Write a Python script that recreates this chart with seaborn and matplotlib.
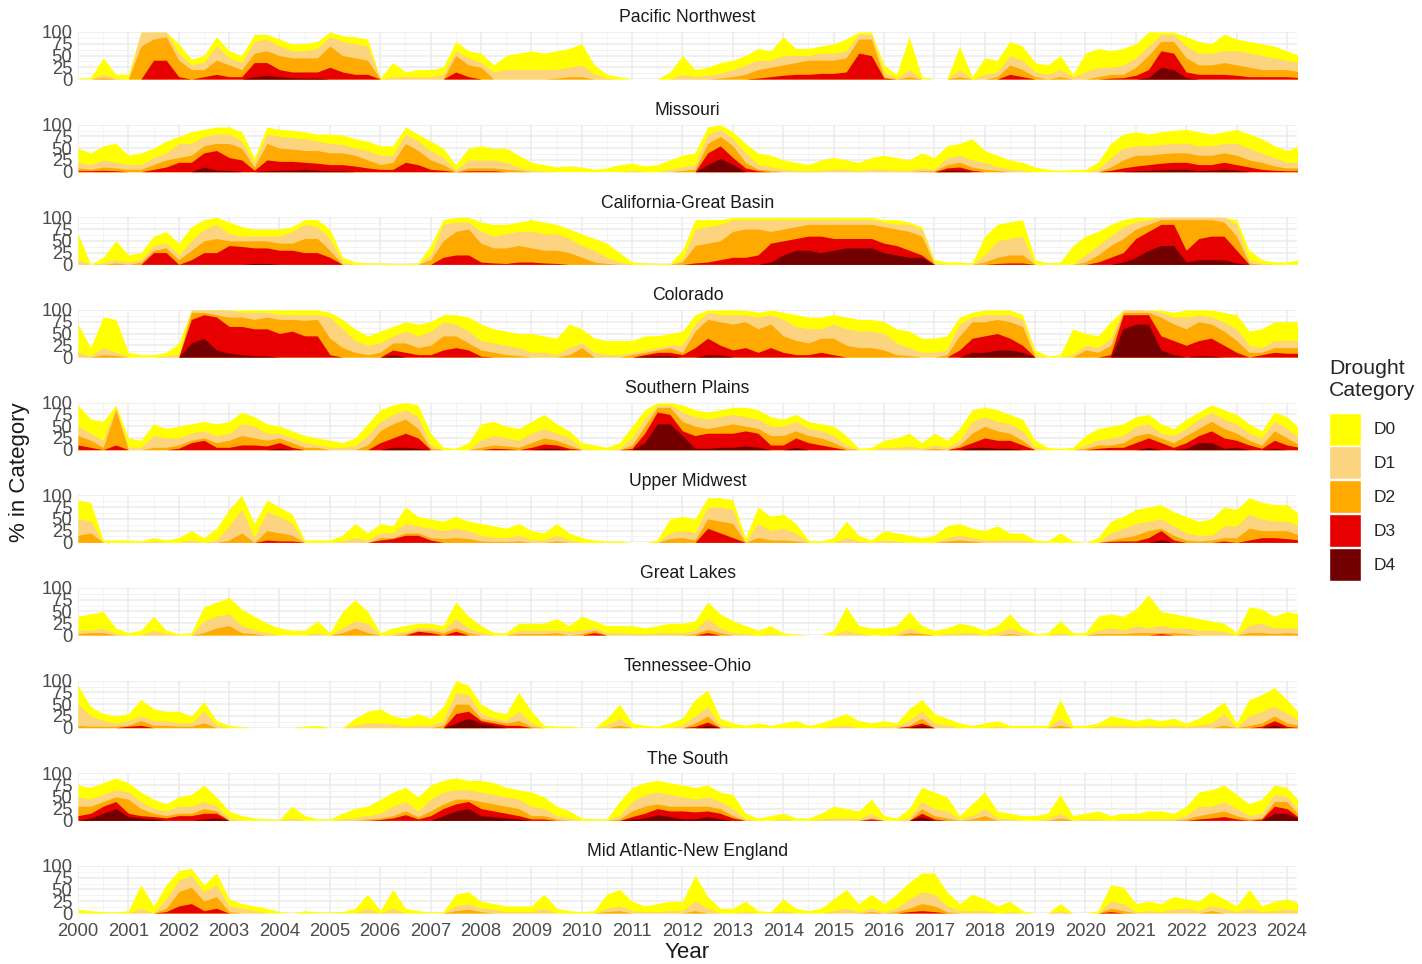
import numpy as np
import pandas as pd
import matplotlib
matplotlib.use("Agg")
import matplotlib.pyplot as plt
from matplotlib.patches import Patch
from matplotlib.ticker import MultipleLocator
import seaborn as sns

# quarterly readings of the cumulative drought levels (% area in Dx or worse),
# 2000.00, 2000.25, ... 2024.25  (98 values per series)
quarters = 2000 + 0.25 * np.arange(98)

regions = ["Pacific Northwest", "Missouri", "California-Great Basin", "Colorado",
           "Southern Plains", "Upper Midwest", "Great Lakes", "Tennessee-Ohio",
           "The South", "Mid Atlantic-New England"]
categories = ["D0", "D1", "D2", "D3", "D4"]
colors = ["#FFFF00", "#FCD37F", "#FFAA00", "#E60000", "#730000"]

pnw_d0 = [2,3,45,10, 10,100,100,100, 75,42,50,90, 60,50,95,95, 85,75,75,80, 100,92,90,85,
          2,35,15,20, 20,25,80,60, 55,30,50,55, 60,55,60,65, 75,30,10,5, 0,0,0,15,
          50,20,25,35, 40,50,65,60, 90,65,65,70, 75,85,100,100, 30,10,90,5, 0,0,70,5,
          45,40,80,70, 35,30,50,10, 55,65,60,65, 75,100,100,100, 90,80,75,95, 85,80,75,70,
          60,50]
pnw_d1 = [0,0,10,2, 0,100,100,100, 55,30,35,70, 45,35,80,85, 70,60,60,65, 90,80,75,70,
          0,5,5,5, 5,10,60,45, 35,15,20,20, 20,20,20,25, 30,10,2,0, 0,0,0,0,
          10,5,8,12, 20,30,40,40, 50,50,50,55, 55,60,95,95, 15,2,20,0, 0,0,20,0,
          10,15,50,40, 15,10,20,5, 15,25,25,30, 45,70,95,95, 70,55,55,60, 60,55,50,45,
          40,35]
pnw_d2 = [0,0,3,0, 0,70,85,90, 40,20,20,40, 30,20,55,60, 50,45,45,45, 70,50,45,40,
          0,0,0,0, 0,0,50,30, 25,0,0,0, 0,0,2,5, 5,0,0,0, 0,0,0,0,
          0,0,0,2, 5,10,20,25, 30,35,40,40, 40,45,85,85, 5,0,5,0, 0,0,5,0,
          0,5,30,20, 5,0,5,0, 0,5,10,10, 25,50,80,80, 45,30,30,35, 30,25,20,20,
          20,15]
pnw_d3 = [0,0,0,0, 0,0,40,40, 5,0,5,10, 5,5,35,35, 20,15,15,15, 25,15,10,10,
          0,0,0,0, 0,0,15,5, 0,0,0,0, 0,0,0,0, 0,0,0,0, 0,0,0,0,
          0,0,0,0, 0,0,2,5, 8,10,10,12, 12,15,55,50, 2,0,0,0, 0,0,0,0,
          0,0,10,5, 0,0,0,0, 0,0,2,3, 8,20,60,55, 15,10,10,10, 8,5,5,5,
          5,3]
pnw_d4 = [0,0,0,0, 0,0,0,0, 0,0,0,0, 0,0,5,8, 5,3,2,2, 0,0,0,0,
          0,0,0,0, 0,0,0,0, 0,0,0,0, 0,0,0,0, 0,0,0,0, 0,0,0,0,
          0,0,0,0, 0,0,0,0, 0,0,0,0, 0,0,0,0, 0,0,0,0, 0,0,0,0,
          0,0,0,0, 0,0,0,0, 0,0,0,0, 0,3,25,20, 3,0,0,0, 0,0,0,0,
          0,0]

mo_d0 = [50,40,55,60, 35,40,50,65, 75,85,90,95, 95,85,30,95, 90,88,85,80, 80,78,70,65,
         55,55,95,80, 65,50,15,50, 55,50,50,35, 20,15,10,12, 10,5,8,15, 18,12,15,25,
         35,40,95,100, 85,60,40,35, 25,20,15,25, 30,25,20,30, 35,30,25,40, 30,55,60,70,
         45,35,25,20, 10,5,3,5, 5,20,60,80, 85,80,85,88, 90,85,80,85, 90,80,70,55,
         45,55]
mo_d1 = [20,15,25,20, 15,15,30,40, 60,60,75,80, 80,65,20,80, 75,72,70,65, 60,58,50,45,
         35,35,80,65, 45,30,3,25, 25,25,20,8, 3,2,0,0, 0,0,0,0, 3,0,0,5,
         10,15,80,90, 70,40,15,10, 5,3,2,3, 5,5,2,5, 5,3,3,8, 5,30,35,25,
         20,10,5,3, 0,0,0,0, 0,5,30,50, 55,55,58,60, 60,55,55,60, 60,50,40,30,
         20,20]
mo_d2 = [8,5,10,8, 5,5,15,25, 30,35,55,60, 60,50,10,60, 50,48,45,45, 40,40,35,25,
         15,20,60,45, 25,15,0,8, 8,8,5,3, 0,0,0,0, 0,0,0,0, 0,0,0,0,
         3,5,60,75, 55,20,5,3, 0,0,0,0, 0,0,0,0, 0,0,0,2, 2,15,20,10,
         5,3,0,0, 0,0,0,0, 0,0,10,25, 35,35,38,40, 40,35,35,40, 35,25,20,12,
         8,8]
mo_d3 = [2,2,3,2, 0,0,5,10, 20,20,40,45, 30,25,3,25, 22,22,20,18, 15,15,12,8,
         5,5,20,15, 5,3,0,2, 2,2,0,0, 0,0,0,0, 0,0,0,0, 0,0,0,0,
         0,0,40,55, 30,8,2,0, 0,0,0,0, 0,0,0,0, 0,0,0,0, 0,8,10,3,
         0,0,0,0, 0,0,0,0, 0,0,3,8, 12,15,18,20, 20,15,15,20, 15,10,5,3,
         2,2]
mo_d4 = [0,0,0,0, 0,0,0,0, 0,0,10,3, 3,0,0,2, 3,3,5,3, 2,2,0,0,
         0,0,0,0, 0,0,0,0, 0,0,0,0, 0,0,0,0, 0,0,0,0, 0,0,0,0,
         0,0,15,28, 15,0,0,0, 0,0,0,0, 0,0,0,0, 0,0,0,0, 0,3,4,0,
         0,0,0,0, 0,0,0,0, 0,0,0,0, 2,3,4,5, 5,2,3,5, 3,0,0,0,
         0,0]

cgb_d0 = [65,0,15,50, 20,25,60,70, 45,80,95,100, 90,80,75,75, 75,80,95,95, 75,15,5,3,
          3,2,2,3, 40,95,100,100, 90,85,85,90, 95,90,85,75, 65,55,45,25, 5,3,2,2,
          30,95,95,95, 100,100,100,100, 100,100,100,100, 100,100,100,100, 95,95,90,80, 10,5,5,3,
          60,85,90,95, 10,3,5,40, 60,70,85,95, 100,100,100,100, 100,100,100,100, 95,30,10,5,
          5,10]
cgb_d1 = [10,0,3,10, 5,10,40,45, 20,50,75,85, 65,60,60,60, 60,70,85,80, 55,5,0,0,
          0,0,0,0, 20,85,90,90, 70,60,65,70, 70,65,65,55, 40,30,15,5, 0,0,0,0,
          10,75,80,85, 95,95,95,95, 95,95,95,95, 95,95,95,95, 90,85,85,75, 3,0,0,0,
          20,50,55,60, 0,0,0,0, 20,40,60,80, 90,95,100,100, 100,100,100,100, 85,10,3,0,
          0,0]
cgb_d2 = [0,0,0,3, 0,5,30,35, 10,30,50,55, 50,50,50,50, 45,45,55,55, 30,0,0,0,
          0,0,0,0, 10,50,70,75, 45,35,35,40, 35,30,30,25, 15,5,2,0, 0,0,0,0,
          5,40,45,50, 70,75,75,70, 75,80,85,85, 85,85,85,85, 80,75,70,60, 0,0,0,0,
          5,15,20,20, 0,0,0,0, 5,20,40,55, 75,85,95,95, 95,95,95,90, 60,3,0,0,
          0,0]
cgb_d3 = [0,0,0,0, 0,0,25,25, 0,10,25,25, 40,38,35,35, 30,30,25,25, 15,0,0,0,
          0,0,0,0, 0,15,20,20, 5,3,2,5, 5,3,2,0, 0,0,0,0, 0,0,0,0,
          0,3,5,10, 15,15,20,45, 50,55,60,60, 55,55,55,55, 45,40,30,20, 0,0,0,0,
          0,2,3,3, 0,0,0,0, 0,5,15,25, 55,70,85,85, 30,55,60,60, 30,0,0,0,
          0,0]
cgb_d4 = [0,0,0,0, 0,0,0,0, 0,0,0,0, 0,0,2,2, 0,0,0,0, 0,0,0,0,
          0,0,0,0, 0,0,0,0, 0,0,0,0, 0,0,0,0, 0,0,0,0, 0,0,0,0,
          0,0,0,0, 0,0,0,5, 20,30,30,25, 30,35,35,35, 25,20,15,15, 0,0,0,0,
          0,0,0,0, 0,0,0,0, 0,0,0,5, 15,30,40,40, 5,10,10,10, 3,0,0,0,
          0,0]

co_d0 = [70,20,85,80, 10,5,5,10, 30,100,100,100, 100,100,100,100, 100,100,100,100, 95,80,60,45,
         55,65,75,70, 75,90,90,85, 70,60,55,50, 50,45,40,70, 60,40,35,35, 35,45,45,50,
         55,90,100,100, 100,100,95,100, 95,90,85,85, 90,85,80,80, 75,60,55,40, 40,45,85,95,
         100,100,100,90, 15,3,5,60, 50,45,75,100, 100,100,100,95, 100,100,100,95, 90,55,60,75,
         75,75]
co_d1 = [10,3,20,10, 0,0,0,3, 5,100,100,100, 100,95,95,95, 90,90,90,90, 85,60,35,25,
         30,45,55,45, 55,75,70,55, 35,30,25,20, 10,10,5,20, 30,10,5,5, 10,15,20,25,
         25,70,95,90, 90,90,85,90, 80,65,60,60, 70,60,55,55, 50,30,20,10, 10,15,70,85,
         90,90,90,80, 5,0,0,5, 25,20,40,100, 100,100,95,85, 85,90,85,75, 60,25,20,35,
         35,35]
co_d2 = [0,0,5,3, 0,0,0,0, 0,95,95,90, 85,85,80,85, 80,80,78,80, 40,20,10,5,
         10,30,30,20, 25,45,45,30, 15,10,5,3, 0,0,0,5, 20,0,0,0, 5,10,15,20,
         10,55,80,75, 70,75,60,70, 45,35,30,40, 40,25,20,20, 15,5,3,0, 0,5,45,75,
         75,80,75,65, 0,0,0,0, 15,10,25,95, 95,95,85,70, 60,75,70,55, 35,10,10,20,
         20,20]
co_d3 = [0,0,0,0, 0,0,0,0, 0,80,90,85, 65,65,60,60, 50,55,45,45, 5,0,0,0,
         0,15,10,5, 5,15,20,15, 2,0,0,0, 0,0,0,0, 0,0,0,0, 0,5,10,10,
         5,20,40,25, 15,20,10,20, 10,5,5,10, 5,0,0,0, 0,0,0,0, 0,0,15,40,
         45,50,40,25, 0,0,0,0, 0,0,5,90, 90,90,45,35, 25,35,40,25, 10,0,5,10,
         8,8]
co_d4 = [0,0,0,0, 0,0,0,0, 0,30,40,15, 8,5,3,2, 0,0,0,0, 0,0,0,0,
         0,5,0,0, 0,0,0,0, 0,0,0,0, 0,0,0,0, 0,0,0,0, 0,2,3,3,
         0,0,5,5, 0,0,0,0, 0,0,0,0, 0,0,0,0, 0,0,0,0, 0,0,0,10,
         10,15,15,10, 0,0,0,0, 0,0,0,60, 70,70,15,5, 0,3,2,0, 0,0,0,0,
         0,0]

sp_d0 = [95,65,60,95, 25,20,55,45, 50,55,60,55, 60,80,70,55, 50,40,30,25, 20,15,25,55,
         85,95,100,95, 35,5,3,15, 55,60,50,45, 60,75,55,40, 15,10,5,15, 50,85,100,100,
         95,85,80,85, 90,90,85,70, 65,75,60,55, 50,30,3,5, 20,25,35,15, 35,20,45,85,
         90,85,75,65, 20,5,3,5, 30,45,50,55, 70,75,55,45, 65,80,95,85, 75,55,40,80,
         70,45]
sp_d1 = [50,35,20,90, 5,5,30,25, 25,35,40,30, 35,55,50,35, 35,25,15,10, 5,5,8,30,
         60,75,85,70, 10,0,0,0, 20,30,25,20, 35,45,35,25, 3,0,0,3, 25,65,95,95,
         80,70,65,70, 75,70,65,50, 50,60,45,40, 30,10,0,0, 5,5,8,3, 10,5,20,60,
         70,60,55,40, 5,0,0,0, 10,20,25,30, 50,55,35,30, 45,65,80,65, 55,35,25,60,
         45,25]
sp_d2 = [30,20,5,85, 0,0,5,5, 10,20,25,15, 20,30,25,20, 25,15,5,5, 0,0,0,10,
         40,55,65,45, 3,0,0,0, 5,10,8,5, 15,25,20,10, 0,0,0,0, 10,50,90,90,
         60,50,45,50, 55,50,45,30, 30,40,30,25, 15,3,0,0, 0,0,0,0, 3,0,10,35,
         50,40,35,20, 0,0,0,0, 3,10,10,15, 30,35,25,15, 30,45,60,45, 35,20,10,40,
         25,10]
sp_d3 = [10,5,0,10, 0,0,0,0, 3,15,20,5, 5,10,10,8, 15,5,0,0, 0,0,0,0,
         15,25,35,25, 0,0,0,0, 0,3,2,0, 5,12,10,3, 0,0,0,0, 3,35,80,75,
         40,30,35,35, 35,40,35,10, 10,25,15,10, 5,0,0,0, 0,0,0,0, 0,0,5,15,
         25,20,20,10, 0,0,0,0, 0,3,5,5, 15,25,15,5, 15,30,40,25, 20,10,3,20,
         10,5]
sp_d4 = [0,0,0,0, 0,0,0,0, 0,0,0,0, 0,0,0,0, 3,0,0,0, 0,0,0,0,
         0,5,5,3, 0,0,0,0, 0,0,0,0, 0,3,3,0, 0,0,0,0, 0,15,55,55,
         30,3,3,5, 5,8,5,0, 0,5,0,0, 0,0,0,0, 0,0,0,0, 0,0,0,5,
         5,3,3,0, 0,0,0,0, 0,0,0,0, 0,5,0,0, 3,15,15,3, 5,0,0,3,
         0,0]

um_d0 = [90,85,5,5, 5,3,10,5, 10,25,10,30, 70,100,40,90, 75,60,5,5, 5,15,40,20,
         40,35,75,55, 50,45,55,45, 40,35,30,40, 25,20,40,20, 10,5,3,3, 0,0,5,50,
         55,50,95,95, 90,10,75,55, 60,40,5,3, 10,45,15,5, 25,20,15,10, 15,35,40,30,
         25,35,20,20, 5,3,20,3, 0,10,45,55, 70,75,80,65, 55,45,50,75, 70,95,85,80,
         80,60]
um_d1 = [50,45,0,0, 0,0,3,0, 0,5,0,5, 35,70,10,65, 55,40,0,0, 0,3,10,5,
         20,20,40,35, 30,25,30,25, 15,10,10,15, 5,5,15,5, 0,0,0,0, 0,0,0,20,
         25,20,75,75, 70,0,40,25, 30,20,0,0, 0,10,3,0, 5,3,0,0, 0,10,15,10,
         5,5,5,5, 0,0,0,0, 0,0,20,30, 40,45,50,35, 20,15,15,35, 35,60,50,45,
         45,35]
um_d2 = [15,20,0,0, 0,0,0,0, 0,0,0,0, 5,20,0,25, 20,15,0,0, 0,0,0,0,
         10,10,20,20, 10,8,10,8, 3,2,2,3, 0,0,3,0, 0,0,0,0, 0,0,0,8,
         10,5,50,45, 40,0,10,5, 5,3,0,0, 0,0,0,0, 0,0,0,0, 0,3,5,3,
         0,0,0,0, 0,0,0,0, 0,0,5,10, 15,25,30,15, 5,3,5,10, 10,30,25,25,
         25,15]
um_d3 = [0,0,0,0, 0,0,0,0, 0,0,0,0, 0,0,0,5, 3,3,0,0, 0,0,0,0,
         5,8,15,15, 5,0,0,0, 0,0,0,0, 0,0,0,0, 0,0,0,0, 0,0,0,0,
         0,0,30,20, 10,0,0,0, 0,0,0,0, 0,0,0,0, 0,0,0,0, 0,0,0,0,
         0,0,0,0, 0,0,0,0, 0,0,2,3, 3,10,25,5, 0,0,0,3, 0,5,10,10,
         8,5]
um_d4 = [0,0,0,0, 0,0,0,0, 0,0,0,0, 0,0,0,0, 0,0,0,0, 0,0,0,0,
         0,0,0,0, 0,0,0,0, 0,0,0,0, 0,0,0,0, 0,0,0,0, 0,0,0,0,
         0,0,0,0, 0,0,0,0, 0,0,0,0, 0,0,0,0, 0,0,0,0, 0,0,0,0,
         0,0,0,0, 0,0,0,0, 0,0,0,0, 0,0,5,0, 0,0,0,0, 0,0,0,0,
         0,0]

gl_d0 = [40,45,50,15, 5,10,40,10, 3,5,60,70, 80,55,40,25, 15,10,10,30, 5,50,75,50,
         5,15,20,25, 25,20,70,40, 20,5,5,25, 25,25,35,20, 40,30,20,20, 20,15,20,25,
         25,30,70,45, 30,20,10,20, 5,2,0,0, 10,60,20,15, 15,20,50,20, 10,15,25,20,
         10,20,45,15, 3,5,30,5, 5,40,45,40, 55,85,50,45, 40,35,30,25, 5,60,55,40,
         50,45]
gl_d1 = [10,10,15,3, 0,0,10,3, 0,0,30,40, 45,20,10,5, 0,0,0,5, 0,15,30,25,
         0,3,8,15, 15,10,35,15, 5,0,0,10, 10,10,10,8, 10,15,5,5, 3,3,5,5,
         5,10,35,15, 5,3,0,3, 0,0,0,0, 0,10,3,0, 0,3,15,5, 0,3,5,5,
         0,5,15,5, 0,0,5,0, 0,10,15,10, 20,15,20,15, 15,10,10,8, 0,20,25,15,
         15,15]
gl_d2 = [3,5,5,0, 0,0,0,0, 0,0,5,15, 20,5,3,0, 0,0,0,0, 0,5,15,5,
         0,0,3,10, 10,5,15,5, 0,0,0,3, 3,3,5,0, 3,10,0,0, 0,0,0,0,
         0,3,12,5, 0,0,0,0, 0,0,0,0, 0,0,0,0, 0,0,5,3, 0,0,0,0,
         0,0,3,0, 0,0,0,0, 0,3,3,3, 5,5,5,5, 3,0,0,0, 0,5,5,3,
         5,3]
gl_d3 = [0,0,0,0, 0,0,0,0, 0,0,0,0, 0,0,0,0, 0,0,0,0, 0,0,0,0,
         0,0,0,8, 5,0,8,0, 0,0,0,0, 0,0,0,0, 0,5,0,0, 0,0,0,0,
         0,0,5,0, 0,0,0,0, 0,0,0,0, 0,0,0,0, 0,0,0,0, 0,0,0,0,
         0,0,0,0, 0,0,0,0, 0,0,0,0, 0,0,3,0, 0,0,0,0, 0,0,0,0,
         0,0]

to_d0 = [90,45,30,25, 30,60,40,35, 35,25,55,15, 5,2,0,0, 0,0,3,5, 0,0,20,35,
         40,25,20,30, 20,45,100,90, 50,35,30,75, 35,5,3,3, 0,0,20,50, 10,5,3,10,
         20,60,80,20, 10,5,10,5, 10,15,5,10, 20,30,15,10, 15,10,40,60, 30,20,10,5,
         10,15,5,5, 5,5,60,5, 5,10,25,20, 15,20,15,20, 10,20,35,55, 10,60,70,85,
         60,30]
to_d1 = [50,25,15,10, 15,25,15,15, 10,10,35,5, 0,0,0,0, 0,0,0,0, 0,0,5,10,
         10,8,3,5, 5,15,75,70, 30,20,15,35, 10,0,0,0, 0,0,5,20, 0,0,0,0,
         5,25,45,5, 0,0,0,0, 0,0,0,0, 3,5,0,0, 3,3,15,35, 10,5,0,0,
         0,3,0,0, 0,0,20,0, 0,3,5,5, 3,5,3,5, 3,5,10,30, 0,25,35,45,
         30,15]
to_d2 = [5,3,3,3, 5,15,5,5, 3,3,10,0, 0,0,0,0, 0,0,0,0, 0,0,0,0,
         0,0,0,0, 0,5,50,50, 20,15,10,15, 3,0,0,0, 0,0,0,5, 0,0,0,0,
         0,10,25,0, 0,0,0,0, 0,0,0,0, 0,0,0,0, 0,0,5,20, 0,0,0,0,
         0,0,0,0, 0,0,5,0, 0,0,0,0, 0,0,0,0, 0,0,0,5, 0,5,10,25,
         10,5]
to_d3 = [0,0,0,0, 3,5,0,0, 0,0,0,0, 0,0,0,0, 0,0,0,0, 0,0,0,0,
         0,0,0,0, 0,0,30,35, 15,10,5,5, 0,0,0,0, 0,0,0,0, 0,0,0,0,
         0,3,12,0, 0,0,0,0, 0,0,0,0, 0,0,0,0, 0,0,3,10, 0,0,0,0,
         0,0,0,0, 0,0,0,0, 0,0,0,0, 0,0,0,0, 0,0,0,0, 0,0,3,15,
         3,0]
to_d4 = [0,0,0,0, 0,0,0,0, 0,0,0,0, 0,0,0,0, 0,0,0,0, 0,0,0,0,
         0,0,0,0, 0,0,10,20, 10,5,0,0, 0,0,0,0, 0,0,0,0, 0,0,0,0,
         0,0,5,0, 0,0,0,0, 0,0,0,0, 0,0,0,0, 0,0,0,5, 0,0,0,0,
         0,0,0,0, 0,0,0,0, 0,0,0,0, 0,0,0,0, 0,0,0,0, 0,0,0,5,
         0,0]

ts_d0 = [75,70,80,90, 80,60,45,35, 50,55,75,50, 20,10,5,3, 2,30,10,3, 3,15,25,30,
         45,60,70,50, 75,85,90,85, 85,80,70,65, 60,50,30,20, 5,3,3,40, 70,80,85,80,
         75,70,75,60, 55,15,5,10, 15,5,5,15, 30,25,20,45, 10,5,25,70, 60,50,10,35,
         60,20,15,10, 10,15,55,10, 15,20,10,15, 15,20,20,15, 30,60,65,75, 55,35,45,75,
         70,40]
ts_d1 = [50,45,55,65, 60,40,25,20, 30,30,40,30, 5,0,0,0, 0,5,0,0, 0,3,5,10,
         15,30,40,20, 45,60,65,65, 60,55,50,45, 30,25,10,5, 0,0,0,10, 40,55,60,55,
         50,45,50,40, 25,3,0,0, 3,0,0,3, 5,5,3,15, 0,0,5,40, 25,20,3,10,
         25,5,3,0, 0,3,15,0, 3,3,0,3, 3,3,3,3, 10,30,30,40, 25,10,15,55,
         50,20]
ts_d2 = [30,30,40,50, 45,25,15,10, 15,15,25,20, 0,0,0,0, 0,0,0,0, 0,0,0,3,
         5,10,20,8, 20,35,45,45, 40,35,30,25, 10,10,3,0, 0,0,0,3, 20,30,35,30,
         30,30,30,25, 10,0,0,0, 0,0,0,0, 0,0,0,5, 0,0,0,25, 10,5,0,3,
         10,0,0,0, 0,0,5,0, 0,0,0,0, 0,0,0,0, 3,10,15,20, 10,3,5,40,
         40,10]
ts_d3 = [10,15,30,40, 15,10,8,5, 10,10,15,15, 0,0,0,0, 0,0,0,0, 0,0,0,0,
         2,5,12,3, 10,25,35,40, 25,20,15,10, 3,3,0,0, 0,0,0,0, 8,15,25,20,
         20,18,20,15, 5,0,0,0, 0,0,0,0, 0,0,0,3, 0,0,0,15, 3,0,0,0,
         0,0,0,0, 0,0,0,0, 0,0,0,0, 0,0,0,0, 0,3,5,8, 3,0,3,30,
         25,5]
ts_d4 = [0,5,15,25, 8,5,3,0, 0,0,3,5, 0,0,0,0, 0,0,0,0, 0,0,0,0,
         0,0,0,0, 0,10,20,25, 10,8,5,3, 0,0,0,0, 0,0,0,0, 3,5,12,8,
         3,3,8,3, 0,0,0,0, 0,0,0,0, 0,0,0,0, 0,0,0,8, 0,0,0,0,
         0,0,0,0, 0,0,0,0, 0,0,0,0, 0,0,0,0, 0,0,0,0, 0,0,0,15,
         15,3]

ma_d0 = [8,5,3,2, 5,60,15,60, 90,95,60,85, 30,20,15,10, 3,0,5,2, 2,3,10,40,
         5,50,10,5, 2,3,40,45, 25,20,15,15, 15,40,10,5, 3,5,40,50, 25,15,20,25,
         25,80,35,10, 10,25,5,3, 30,10,5,10, 30,50,20,40, 20,40,65,85, 85,45,20,40,
         30,15,25,5, 0,0,20,0, 0,5,60,55, 20,25,20,35, 30,25,45,30, 15,50,15,25,
         30,20]
ma_d1 = [0,0,0,0, 0,10,0,30, 70,80,45,60, 15,10,5,0, 0,0,0,0, 0,0,0,10,
         0,10,0,0, 0,0,15,20, 10,8,3,3, 3,10,0,0, 0,0,10,15, 5,3,3,5,
         5,25,10,0, 0,3,0,0, 5,0,0,0, 5,10,3,10, 3,10,30,45, 40,15,5,5,
         5,0,3,0, 0,0,5,0, 0,0,25,20, 3,5,3,8, 10,5,15,10, 3,10,3,5,
         8,5]
ma_d2 = [0,0,0,0, 0,0,0,10, 45,55,25,35, 3,0,0,0, 0,0,0,0, 0,0,0,0,
         0,0,0,0, 0,0,5,8, 3,0,0,0, 0,0,0,0, 0,0,3,5, 0,0,0,0,
         0,5,0,0, 0,0,0,0, 0,0,0,0, 0,0,0,3, 0,3,10,20, 15,3,0,0,
         0,0,0,0, 0,0,0,0, 0,0,10,5, 0,0,0,0, 0,0,5,0, 0,0,0,0,
         0,0]
ma_d3 = [0,0,0,0, 0,0,0,3, 15,20,5,10, 0,0,0,0, 0,0,0,0, 0,0,0,0,
         0,0,0,0, 0,0,0,0, 0,0,0,0, 0,0,0,0, 0,0,0,0, 0,0,0,0,
         0,0,0,0, 0,0,0,0, 0,0,0,0, 0,0,0,0, 0,0,3,5, 3,0,0,0,
         0,0,0,0, 0,0,0,0, 0,0,3,0, 0,0,0,0, 0,0,0,0, 0,0,0,0,
         0,0]

region_levels = {
    "Pacific Northwest": [pnw_d0, pnw_d1, pnw_d2, pnw_d3, pnw_d4],
    "Missouri": [mo_d0, mo_d1, mo_d2, mo_d3, mo_d4],
    "California-Great Basin": [cgb_d0, cgb_d1, cgb_d2, cgb_d3, cgb_d4],
    "Colorado": [co_d0, co_d1, co_d2, co_d3, co_d4],
    "Southern Plains": [sp_d0, sp_d1, sp_d2, sp_d3, sp_d4],
    "Upper Midwest": [um_d0, um_d1, um_d2, um_d3, um_d4],
    "Great Lakes": [gl_d0, gl_d1, gl_d2, gl_d3],
    "Tennessee-Ohio": [to_d0, to_d1, to_d2, to_d3, to_d4],
    "The South": [ts_d0, ts_d1, ts_d2, ts_d3, ts_d4],
    "Mid Atlantic-New England": [ma_d0, ma_d1, ma_d2, ma_d3],
}

frames = []
for region, levels in region_levels.items():
    for cat, vals in zip(categories, levels):
        assert len(vals) == len(quarters), (region, cat, len(vals))
    arr = np.minimum.accumulate(np.array(levels, dtype=float), axis=0)
    for cat, vals in zip(categories, arr):
        frames.append(pd.DataFrame({"region": region, "year": quarters,
                                    "category": cat, "level": vals}))
df = pd.concat(frames, ignore_index=True)

sns.set_theme(style="whitegrid")
plt.rcParams["font.family"] = ["Liberation Sans", "DejaVu Sans"]
plt.rcParams["axes.titlepad"] = 7


def draw_levels(data, **kws):
    ax = plt.gca()
    for cat, col in zip(categories, colors):
        d = data[data["category"] == cat]
        if len(d):
            ax.fill_between(d["year"], 0, d["level"], color=col, lw=0, zorder=2)


g = sns.FacetGrid(df, row="region", row_order=regions, sharex=True, sharey=True,
                  height=0.9, aspect=14, despine=False)
g.map_dataframe(draw_levels)
g.set_titles(row_template="{row_name}", size=12.7, color="#1A1A1A")
g.set_axis_labels("", "")

for ax in g.axes.flat:
    ax.set_xlim(2000, 2024.2)
    ax.set_ylim(0, 100)
    ax.set_yticks([0, 25, 50, 75, 100])
    ax.set_xticks(range(2000, 2025))
    ax.xaxis.set_minor_locator(MultipleLocator(0.5))
    ax.yaxis.set_minor_locator(MultipleLocator(12.5))
    ax.grid(which="major", color="#EBEBEB", lw=1.1)
    ax.grid(which="minor", color="#F2F2F2", lw=0.6)
    ax.set_axisbelow(True)
    ax.tick_params(which="both", length=0, labelsize=13.3, colors="#4D4D4D")
    ax.tick_params(axis="y", pad=4)
    ax.tick_params(axis="x", pad=7)
    for s in ax.spines.values():
        s.set_visible(False)
    ax.set_facecolor("white")

fig = g.figure
fig.set_size_inches(14.22, 9.64)
fig.text(20 / 1422, 1 - 472 / 964, "% in Category", rotation=90, ha="center",
         va="center", fontsize=16, color="#1A1A1A")
fig.text(687 / 1422, 1 - 952 / 964, "Year", ha="center", va="center",
         fontsize=16, color="#1A1A1A")

handles = [Patch(facecolor=c, edgecolor="white", lw=1) for c in colors]
leg = fig.legend(handles, categories, title="Drought\nCategory", loc="upper left",
                 bbox_to_anchor=(1329 / 1422, 1 - 359 / 964), frameon=False,
                 borderpad=0, borderaxespad=0,
                 fontsize=12.5, title_fontsize=15.3, handlelength=1.85,
                 handleheight=2.55, labelspacing=0.05, handletextpad=0.7,
                 alignment="left")
leg._legend_box.sep = 9  # gap between legend title and keys, in points

fig.subplots_adjust(left=78 / 1422, right=1297 / 1422, top=1 - 32 / 964,
                    bottom=1 - 913 / 964, hspace=0.97)
fig.savefig("out.png", dpi=100, facecolor="white")
